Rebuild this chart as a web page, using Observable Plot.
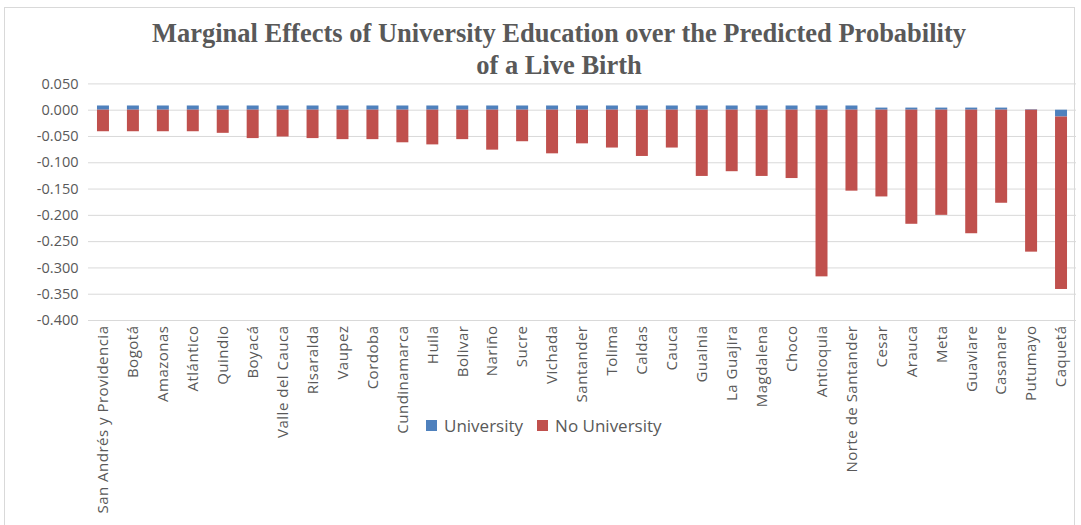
<!DOCTYPE html>
<html>
<head>
<meta charset="utf-8">
<script src="https://cdn.jsdelivr.net/npm/d3@7"></script>
<script src="https://cdn.jsdelivr.net/npm/@observablehq/plot@0.6"></script>
<style>
  body { margin: 0; background: #fff; }
  #wrap { position: relative; width: 1081px; height: 525px; overflow: hidden; background: #fff; }
  #frame { position: absolute; left: 4px; top: 7px; width: 1071px; height: 530px; border: 1px solid #d9d9d9; box-sizing: border-box; }
  #title { position: absolute; left: 0; width: 1118px; top: 17px; text-align: center; font-family: "Liberation Serif", "DejaVu Serif", serif; font-weight: bold; font-size: 26.5px; line-height: 32px; color: #595959; }
  #chart { position: absolute; left: 0; top: 0; }
  #legend { position: absolute; top: 414px; left: 426px; font-family: "Open Sans", sans-serif; font-size: 17px; color: #595959; display: flex; align-items: center; }
  #legend .sw { display: inline-block; width: 11px; height: 11px; margin-right: 7px; }
  #legend .item { display: flex; align-items: center; margin-right: 14px; }
</style>
</head>
<body>
<div id="wrap">
  <div id="frame"></div>
  <div id="chart"></div>
  <div id="title">Marginal Effects of University Education over the Predicted Probability<br>of a Live Birth</div>
  <div id="legend"></div>
</div>
<script>
const regions = ["San Andrés y Providencia","Bogotá","Amazonas","Atlántico","Quindio","Boyacá","Valle del Cauca","Risaralda","Vaupez","Cordoba","Cundinamarca","Huila","Bolivar","Nariño","Sucre","Vichada","Santander","Tolima","Caldas","Cauca","Guainia","La Guajira","Magdalena","Choco","Antioquia","Norte de Santander","Cesar","Arauca","Meta","Guaviare","Casanare","Putumayo","Caquetá"];
const university = [0.008,0.008,0.008,0.008,0.008,0.008,0.008,0.008,0.008,0.008,0.008,0.008,0.008,0.008,0.008,0.008,0.008,0.008,0.008,0.008,0.008,0.008,0.008,0.008,0.008,0.008,0.004,0.004,0.004,0.004,0.004,0.001,-0.013];
const noUniversity = [-0.041,-0.041,-0.041,-0.041,-0.044,-0.054,-0.051,-0.054,-0.056,-0.056,-0.062,-0.066,-0.056,-0.076,-0.060,-0.083,-0.064,-0.072,-0.088,-0.072,-0.126,-0.117,-0.126,-0.130,-0.317,-0.154,-0.165,-0.217,-0.200,-0.235,-0.177,-0.270,-0.328];
const seriesNames = ["University","No University"];
const seriesColors = ["#4F81BD","#C0504D"];
const yTicks = [0.05,0,-0.05,-0.1,-0.15,-0.2,-0.25,-0.3,-0.35,-0.4];

const data = [];
regions.forEach((r, i) => {
  data.push({region: r, series: seriesNames[0], value: university[i]});
  data.push({region: r, series: seriesNames[1], value: noUniversity[i]});
});

const chart = Plot.plot({
  width: 1081,
  height: 525,
  marginLeft: 88,
  marginRight: 5,
  marginTop: 83.4,
  marginBottom: 205,
  style: {fontFamily: "'Open Sans', sans-serif", color: "#595959", background: "transparent"},
  x: {domain: regions, paddingInner: 0.6, paddingOuter: 0.3, label: null},
  y: {domain: [-0.4, 0.05], ticks: yTicks, label: null},
  color: {domain: seriesNames, range: seriesColors},
  marks: [
    Plot.gridY(yTicks, {stroke: "#d9d9d9", strokeOpacity: 1, strokeWidth: 1}),
    Plot.barY(data, {x: "region", y: "value", fill: "series", order: seriesNames}),
    Plot.axisY(yTicks, {tickSize: 0, tickPadding: 10, fontSize: 14.5, fill: "#595959", tickFormat: d => d.toFixed(3), label: null}),
    Plot.axisX({tickSize: 0, tickPadding: 5, tickRotate: -90, fontSize: 15, fill: "#595959", label: null})
  ]
});
chart.querySelectorAll("g[aria-label='x-axis tick label'] text").forEach(t => t.style.letterSpacing = "0.5px");
document.getElementById("chart").appendChild(chart);

const legend = document.getElementById("legend");
seriesNames.forEach((s, i) => {
  const item = document.createElement("span");
  item.className = "item";
  const sw = document.createElement("span");
  sw.className = "sw";
  sw.style.background = seriesColors[i];
  item.appendChild(sw);
  item.appendChild(document.createTextNode(s));
  legend.appendChild(item);
});
</script>
</body>
</html>
